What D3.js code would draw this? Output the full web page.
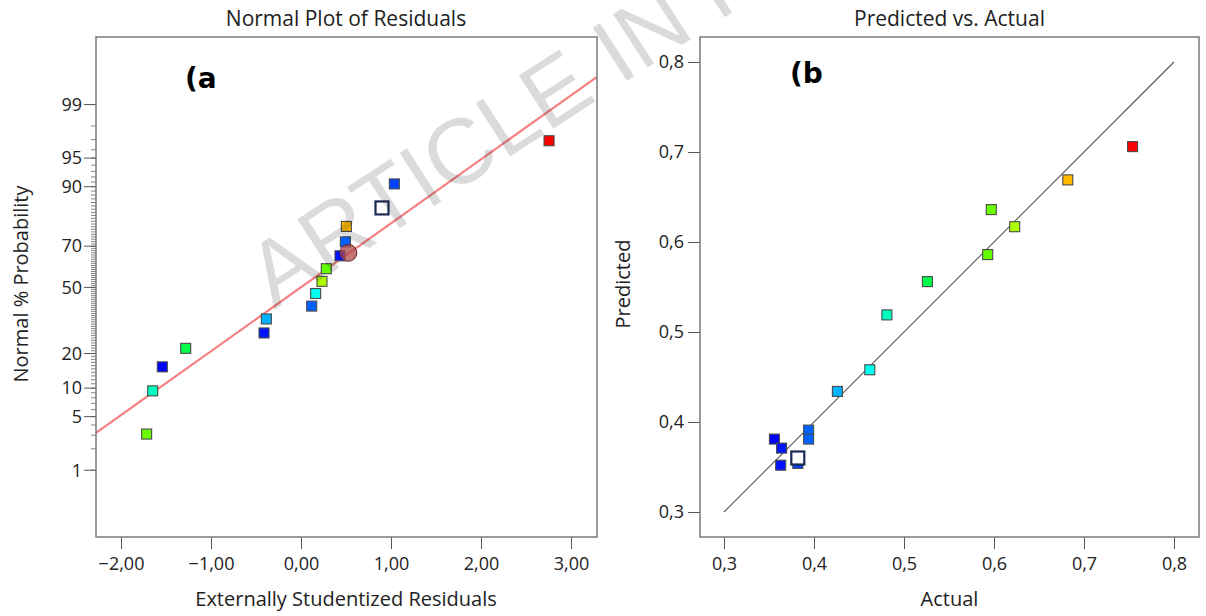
<!DOCTYPE html>
<html><head><meta charset="utf-8">
<script src="https://cdn.jsdelivr.net/npm/d3@7/dist/d3.min.js"></script>
<style>body{margin:0;background:#fff}svg{display:block}</style>
</head><body><svg id="c" width="1206" height="616"></svg>
<script>
// ---------- data (runs ordered by externally studentized residual) ----------
const studResid = [-1.715,-1.648,-1.541,-1.281,-0.411,-0.385,0.119,0.163,0.233,0.281,0.433,0.493,0.504,0.900,1.037,2.756];
const normalProb = [3.1,9.4,15.6,21.9,28.1,34.4,40.6,46.9,53.1,59.4,65.6,71.9,78.1,84.4,90.6,96.9];
const actual = [0.597,0.481,0.356,0.526,0.364,0.426,0.394,0.462,0.623,0.593,0.363,0.394,0.682,0.382,0.382,0.754];
const predicted = [0.636,0.519,0.381,0.556,0.371,0.434,0.391,0.458,0.617,0.586,0.352,0.381,0.669,0.360,0.354,0.706];
const selectedRun = 13;
const markerResid = [0.526];
const markerProb = [67];
const refLineResid = [-2.278, 3.289];
const refLineProb = [3.2, 99.63];
const diagLine = [0.3, 0.8];
const probMajor = [1,5,10,20,50,70,90,95,99];
const probMinor = d3.range(1,100);
const residTicks = [-2,-1,0,1,2,3];
const axisTicks = [0.3,0.4,0.5,0.6,0.7,0.8];

function probit(p){const a=[-3.969683028665376e+01,2.209460984245205e+02,-2.759285104469687e+02,1.383577518672690e+02,-3.066479806614716e+01,2.506628277459239e+00];const b=[-5.447609879822406e+01,1.615858368580409e+02,-1.556989798598866e+02,6.680131188771972e+01,-1.328068155288572e+01];const c=[-7.784894002430293e-03,-3.223964580411365e-01,-2.400758277161838e+00,-2.549732539343734e+00,4.374664141464968e+00,2.938163982698783e+00];const d=[7.784695709041462e-03,3.224671290700398e-01,2.445134137142996e+00,3.754408661907416e+00];const pl=0.02425,ph=1-pl;let q,r;
if(p<pl){q=Math.sqrt(-2*Math.log(p));return (((((c[0]*q+c[1])*q+c[2])*q+c[3])*q+c[4])*q+c[5])/((((d[0]*q+d[1])*q+d[2])*q+d[3])*q+1);}
if(p<=ph){q=p-0.5;r=q*q;return (((((a[0]*r+a[1])*r+a[2])*r+a[3])*r+a[4])*r+a[5])*q/(((((b[0]*r+b[1])*r+b[2])*r+b[3])*r+b[4])*r+1);}
q=Math.sqrt(-2*Math.log(1-p));return -(((((c[0]*q+c[1])*q+c[2])*q+c[3])*q+c[4])*q+c[5])/((((d[0]*q+d[1])*q+d[2])*q+d[3])*q+1);}

const svg = d3.select('#c');
const FONT = "'Open Sans', 'Noto Sans', sans-serif";
const hue = d3.scaleLinear().domain([d3.min(actual), d3.max(actual)]).range([240,0]);
const colorOf = v => d3.hsl(hue(v),1,0.5).formatHex();
const fmt2 = d => d3.format('.2f')(d).replace('.',',');
const fmt1 = d => d3.format('.1f')(d).replace('.',',');

// ---------- left panel ----------
const L = {x0:96,x1:597,y0:37,y1:537};
const xL = d3.scaleLinear().domain([-2.2778,3.2889]).range([L.x0,L.x1]);
const zL = d3.scaleLinear().domain([-3.176,3.186]).range([L.y1,L.y0]);
const yP = p => zL(probit(p/100));

const gL = svg.append('g');
gL.append('clipPath').attr('id','clipL').append('rect').attr('x',L.x0).attr('y',L.y0).attr('width',L.x1-L.x0).attr('height',L.y1-L.y0);
gL.append('g').attr('transform',`translate(0,${L.y1})`).call(d3.axisBottom(xL).tickValues(residTicks).tickSize(12).tickPadding(8).tickFormat(fmt2));
const yAxG = gL.append('g').attr('transform',`translate(${L.x0},0)`);
yAxG.selectAll('line.minor').data(probMinor).join('line').attr('class','minor')
  .attr('x1',-5).attr('x2',0).attr('y1',d=>yP(d)).attr('y2',d=>yP(d)).attr('stroke','#666').attr('stroke-width',0.8);
yAxG.selectAll('line.major').data(probMajor).join('line').attr('class','major')
  .attr('x1',-12).attr('x2',0).attr('y1',d=>yP(d)).attr('y2',d=>yP(d)).attr('stroke','#555').attr('stroke-width',1);
yAxG.selectAll('text').data(probMajor).join('text').attr('x',-14).attr('y',d=>yP(d)).attr('dy','0.35em')
  .attr('text-anchor','end').text(d=>d);

gL.append('line').attr('clip-path','url(#clipL)')
  .attr('x1',xL(refLineResid[0])).attr('y1',yP(refLineProb[0]))
  .attr('x2',xL(refLineResid[1])).attr('y2',yP(refLineProb[1]))
  .attr('stroke','#f47f7f').attr('stroke-width',2.2);

const idx = d3.range(studResid.length);
gL.selectAll('rect.pt').data(idx.filter(i=>i!==selectedRun)).join('rect').attr('class','pt')
  .attr('x',i=>xL(studResid[i])-5).attr('y',i=>yP(normalProb[i])-5).attr('width',10).attr('height',10)
  .attr('fill',i=>colorOf(actual[i])).attr('stroke','#4a4a4a').attr('stroke-width',1.1);
gL.append('rect').attr('x',xL(studResid[selectedRun])-6.5).attr('y',yP(normalProb[selectedRun])-6.5)
  .attr('width',13).attr('height',13).attr('fill','#fff').attr('stroke','#1b2a55').attr('stroke-width',2.2);
gL.selectAll('circle.mk').data(markerResid).join('circle').attr('class','mk')
  .attr('cx',d=>xL(d)).attr('cy',(d,i)=>yP(markerProb[i])).attr('r',8.5)
  .attr('fill','#b04848').attr('fill-opacity',0.75).attr('stroke','#5a2a2a').attr('stroke-width',1);

gL.append('rect').attr('x',L.x0).attr('y',L.y0).attr('width',L.x1-L.x0).attr('height',L.y1-L.y0)
  .attr('fill','none').attr('stroke','#7a7a7a').attr('stroke-width',1.5);

// ---------- right panel ----------
const R = {x0:700,x1:1199,y0:37,y1:537};
const xR = d3.scaleLinear().domain([0.3-24/900,0.8+25/900]).range([R.x0,R.x1]);
const yR = d3.scaleLinear().domain([0.3-25/900,0.8+25/900]).range([R.y1,R.y0]);
const gR = svg.append('g');
gR.append('g').attr('transform',`translate(0,${R.y1})`).call(d3.axisBottom(xR).tickValues(axisTicks).tickSize(12).tickPadding(8).tickFormat(fmt1));
gR.append('g').attr('transform',`translate(${R.x0},0)`).call(d3.axisLeft(yR).tickValues(axisTicks).tickSize(12).tickPadding(4).tickFormat(fmt1));
gR.append('line').attr('x1',xR(diagLine[0])).attr('y1',yR(diagLine[0])).attr('x2',xR(diagLine[1])).attr('y2',yR(diagLine[1]))
  .attr('stroke','#555').attr('stroke-width',1.1);
gR.selectAll('rect.pt').data(idx.filter(i=>i!==selectedRun)).join('rect').attr('class','pt')
  .attr('x',i=>xR(actual[i])-5).attr('y',i=>yR(predicted[i])-5).attr('width',10).attr('height',10)
  .attr('fill',i=>colorOf(actual[i])).attr('stroke','#4a4a4a').attr('stroke-width',1.1);
gR.append('rect').attr('x',xR(actual[selectedRun])-6.5).attr('y',yR(predicted[selectedRun])-6.5)
  .attr('width',13).attr('height',13).attr('fill','#fff').attr('stroke','#1b2a55').attr('stroke-width',2.2);
gR.append('rect').attr('x',R.x0).attr('y',R.y0).attr('width',R.x1-R.x0).attr('height',R.y1-R.y0)
  .attr('fill','none').attr('stroke','#7a7a7a').attr('stroke-width',1.5);

svg.selectAll('.domain').remove();
svg.selectAll('.tick line').attr('stroke','#555');
svg.selectAll('text').attr('font-family',FONT).attr('font-size',18).attr('fill','#222');

const T = (x,y,s,opt={}) => svg.append('text').attr('x',x).attr('y',y).attr('text-anchor',opt.anchor||'middle')
  .attr('font-family',opt.font||FONT).attr('font-size',opt.size||20).attr('font-weight',opt.weight||'normal')
  .attr('fill',opt.fill||'#222').attr('transform',opt.rot?`rotate(-90,${x},${y})`:null).text(s);
T(346,26,'Normal Plot of Residuals',{size:21});
T(949.5,26,'Predicted vs. Actual',{size:21});
T(346,606,'Externally Studentized Residuals');
T(949.5,606,'Actual');
T(28,284,'Normal % Probability',{rot:true});
T(630,284,'Predicted',{rot:true});
T(185,88,'(a',{anchor:'start',font:"'DejaVu Sans', sans-serif",weight:'bold',size:28,fill:'#000'});
T(790,83,'(b',{anchor:'start',font:"'DejaVu Sans', sans-serif",weight:'bold',size:28,fill:'#000'});

// watermark
svg.append('text').attr('x',274).attr('y',310).attr('transform','rotate(-33,274,310)')
  .attr('font-family',"'Liberation Sans', Arial, sans-serif").attr('font-size',92)
  .attr('fill','#000').attr('fill-opacity',0.14).text('ARTICLE IN PRESS');
</script></body></html>
